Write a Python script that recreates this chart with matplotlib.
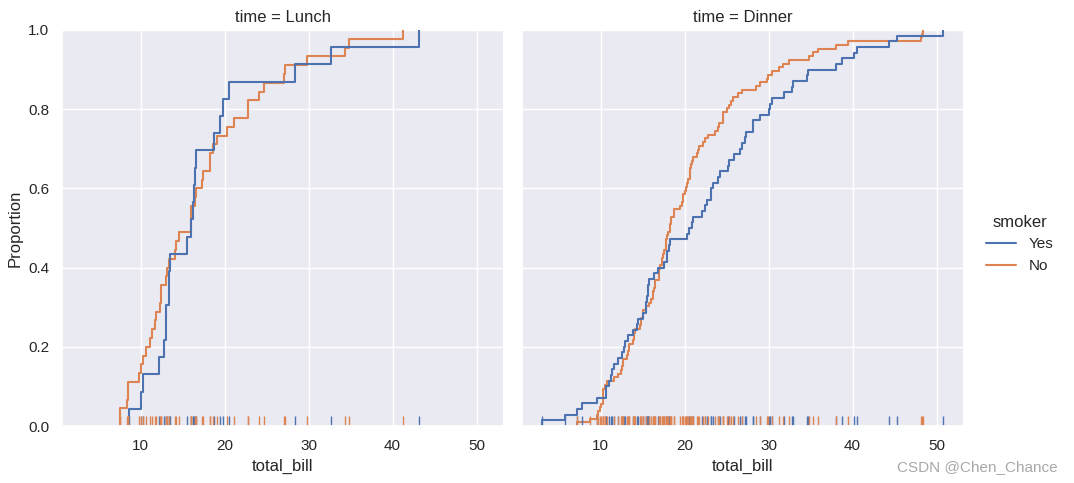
import pandas as pd
import seaborn as sns
import matplotlib.pyplot as plt

# total_bill values split by time and smoker
lunch_yes = [19.44, 32.68, 16.0, 19.81, 28.44, 15.48, 16.58, 10.34, 43.11, 13.0,
             13.51, 18.71, 12.74, 13.0, 16.4, 20.53, 16.47, 12.16, 13.42, 8.58,
             13.42, 16.27, 10.09]
lunch_no = [27.2, 22.76, 17.29, 16.66, 10.07, 15.98, 34.83, 13.03, 18.28, 24.71,
            21.16, 10.65, 12.43, 24.08, 11.69, 13.42, 14.26, 15.95, 12.48, 29.8,
            8.52, 14.52, 11.38, 22.82, 19.08, 20.27, 11.17, 12.26, 18.26, 8.51,
            10.33, 14.15, 13.16, 17.47, 34.3, 41.19, 27.05, 16.43, 8.35, 18.64,
            11.87, 9.78, 7.51, 7.56, 15.98]
dinner_yes = [38.01, 11.24, 20.29, 13.81, 11.02, 18.29, 3.07, 15.01, 26.86, 25.28,
              17.92, 28.97, 5.75, 16.32, 40.17, 27.28, 12.03, 21.01, 11.35, 15.38,
              44.3, 22.42, 15.36, 20.49, 25.21, 14.31, 17.51, 10.59, 10.63, 50.81,
              15.81, 7.25, 31.85, 16.82, 32.9, 17.89, 14.48, 9.6, 34.63, 34.65,
              23.33, 45.35, 23.17, 40.55, 20.9, 30.46, 18.15, 23.1, 15.69, 26.59,
              38.73, 24.27, 12.76, 30.06, 25.89, 13.27, 28.17, 12.9, 28.15, 11.59,
              7.74, 30.14, 22.12, 24.01, 15.69, 15.53, 12.6, 32.83, 27.18, 22.67]
dinner_no = [16.99, 10.34, 21.01, 23.68, 24.59, 25.29, 8.77, 26.88, 15.04, 14.78,
             10.27, 35.26, 15.42, 18.43, 14.83, 21.58, 10.33, 16.29, 16.97, 20.65,
             17.92, 20.29, 15.77, 39.42, 19.82, 17.81, 13.37, 12.69, 21.7, 19.65,
             9.55, 18.35, 15.06, 20.69, 17.78, 24.06, 16.31, 16.93, 18.69, 31.27,
             16.04, 17.46, 13.94, 9.68, 30.4, 18.29, 22.23, 32.4, 28.55, 18.04,
             12.54, 10.29, 34.81, 9.94, 25.56, 19.49, 26.41, 48.27, 17.59, 20.08,
             16.45, 20.23, 12.02, 17.07, 14.73, 10.51, 22.49, 22.75, 12.46, 20.92,
             18.24, 14.0, 7.25, 38.07, 23.95, 25.71, 17.31, 29.93, 14.07, 13.13,
             17.26, 24.55, 19.77, 29.85, 48.17, 25.0, 13.39, 16.49, 21.5, 12.66,
             16.21, 13.81, 24.52, 20.76, 31.71, 20.69, 48.33, 20.45, 13.28, 11.61,
             10.77, 10.07, 35.83, 29.03, 17.82, 18.78]

groups = [("Lunch", "Yes", lunch_yes), ("Lunch", "No", lunch_no),
          ("Dinner", "Yes", dinner_yes), ("Dinner", "No", dinner_no)]
rows = []
for t, s, vals in groups:
    for v in vals:
        rows.append({"total_bill": v, "time": t, "smoker": s})
tips = pd.DataFrame(rows)

sns.set_theme()
plt.rcParams['font.family'] = ['Liberation Sans', 'DejaVu Sans']

g = sns.displot(data=tips, x="total_bill", col="time", hue="smoker",
                kind="ecdf", rug=True, col_order=["Lunch", "Dinner"],
                hue_order=["Yes", "No"])

g.figure.set_size_inches(10.74, 4.83)
g.figure.subplots_adjust(left=0.058, right=0.897, bottom=0.118, top=0.938, wspace=0.043)
sns.move_legend(g, "center left", bbox_to_anchor=(0.905, 0.495), frameon=False)

g.figure.text(0.985, 0.018, "CSDN @Chen_Chance", ha="right", va="bottom",
              color="#a8a8a8", fontsize=11)

plt.savefig("out.png", dpi=100)
